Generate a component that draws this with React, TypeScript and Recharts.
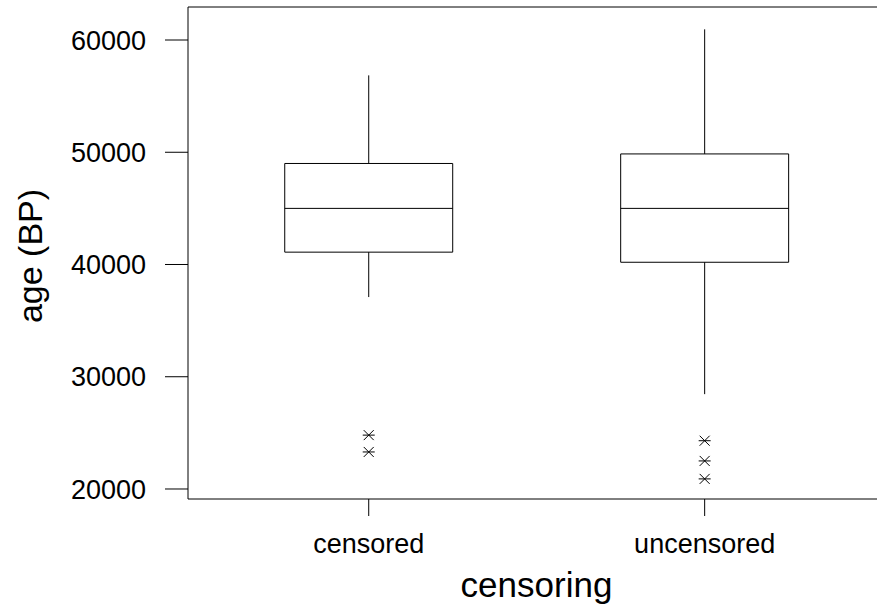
import React from "react";
import {
  ComposedChart,
  XAxis,
  YAxis,
  Scatter,
  ReferenceArea,
  ReferenceLine,
} from "recharts";

const categories = ["censored", "uncensored"];
const whiskerLow = [37100, 28450];
const q1 = [41100, 40200];
const median = [45000, 45000];
const q3 = [49000, 49850];
const whiskerHigh = [56850, 60950];
const outliersCensored = [24800, 23300];
const outliersUncensored = [24300, 22500, 20900];
const yTicks = [20000, 30000, 40000, 50000, 60000];

const FONT = "'Liberation Sans', Arial, sans-serif";
const Y_DOMAIN: [number, number] = [19109, 62940];
const X_DOMAIN: [number, number] = [0.462, 2.513];
const HALF_BOX = 0.25;

const outlierData = [
  ...outliersCensored.map((y) => ({ x: 1, y })),
  ...outliersUncensored.map((y) => ({ x: 2, y })),
];

const Asterisk = (props: any) => {
  const { cx, cy } = props;
  if (cx == null || cy == null) return null;
  return (
    <g stroke="#000" strokeWidth={1}>
      <line x1={cx - 6} y1={cy} x2={cx + 6} y2={cy} />
      <line x1={cx - 5} y1={cy - 5} x2={cx + 5} y2={cy + 5} />
      <line x1={cx - 5} y1={cy + 5} x2={cx + 5} y2={cy - 5} />
    </g>
  );
};

const YTitle = (props: any) => {
  const vb = props.viewBox || {};
  const cy = (vb.y ?? 7) + (vb.height ?? 492) / 2 + 3;
  const bx = 42;
  return (
    <text
      x={bx}
      y={cy}
      transform={`rotate(-90, ${bx}, ${cy})`}
      textAnchor="middle"
      fontFamily={FONT}
      fontSize={34}
      fill="#000"
    >
      age (BP)
    </text>
  );
};

const App: React.FC = () => {
  return (
    <div style={{ position: "absolute", left: 0, top: 0, background: "#fff" }}>
      <ComposedChart
        width={877}
        height={610}
        margin={{ top: 7, right: 0, left: 0, bottom: 0 }}
      >
        <XAxis
          type="number"
          dataKey="x"
          domain={X_DOMAIN}
          ticks={[1, 2]}
          allowDataOverflow
          tickFormatter={(v: number) => categories[v - 1] ?? ""}
          height={111}
          tickSize={17}
          tickMargin={18}
          axisLine={{ stroke: "#000", strokeWidth: 1 }}
          tickLine={{ stroke: "#000", strokeWidth: 1 }}
          tick={{ fill: "#000", fontSize: 27, fontFamily: FONT }}
          label={{
            value: "censoring",
            position: "insideBottom",
            offset: 13,
            dx: 4,
            fontSize: 35,
            fontFamily: FONT,
            fill: "#000",
          }}
        />
        <YAxis
          type="number"
          dataKey="y"
          domain={Y_DOMAIN}
          ticks={yTicks}
          allowDataOverflow
          width={188}
          tickSize={23}
          tickMargin={19}
          axisLine={{ stroke: "#000", strokeWidth: 1 }}
          tickLine={{ stroke: "#000", strokeWidth: 1 }}
          tick={{ fill: "#000", fontSize: 27, fontFamily: FONT }}
          label={<YTitle />}
        />
        <ReferenceLine
          y={Y_DOMAIN[1]}
          stroke="#000"
          strokeWidth={1}
          ifOverflow="visible"
        />
        {categories.map((c, i) => (
          <ReferenceLine
            key={`wh-${c}`}
            segment={[
              { x: i + 1, y: q3[i] },
              { x: i + 1, y: whiskerHigh[i] },
            ]}
            stroke="#000"
            strokeWidth={1}
          />
        ))}
        {categories.map((c, i) => (
          <ReferenceLine
            key={`wl-${c}`}
            segment={[
              { x: i + 1, y: whiskerLow[i] },
              { x: i + 1, y: q1[i] },
            ]}
            stroke="#000"
            strokeWidth={1}
          />
        ))}
        {categories.map((c, i) => (
          <ReferenceArea
            key={`box-${c}`}
            x1={i + 1 - HALF_BOX}
            x2={i + 1 + HALF_BOX}
            y1={q1[i]}
            y2={q3[i]}
            fill="#fff"
            fillOpacity={1}
            stroke="#000"
            strokeWidth={1}
          />
        ))}
        {categories.map((c, i) => (
          <ReferenceLine
            key={`med-${c}`}
            segment={[
              { x: i + 1 - HALF_BOX, y: median[i] },
              { x: i + 1 + HALF_BOX, y: median[i] },
            ]}
            stroke="#000"
            strokeWidth={1}
          />
        ))}
        <Scatter
          data={outlierData}
          dataKey="y"
          shape={<Asterisk />}
          isAnimationActive={false}
        />
      </ComposedChart>
    </div>
  );
};

export default App;
